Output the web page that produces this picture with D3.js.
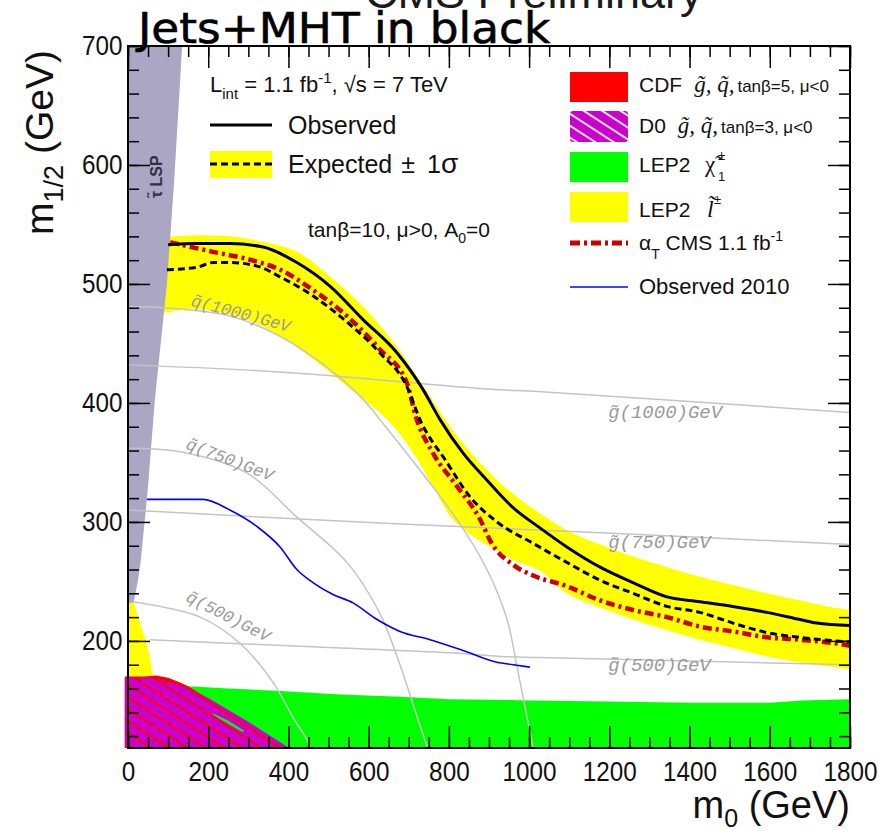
<!DOCTYPE html>
<html><head><meta charset="utf-8">
<script src="https://cdn.jsdelivr.net/npm/d3@7"></script>
<style>
body{margin:0;background:#fff}
svg{display:block}
</style></head>
<body>
<svg id="chart" width="879" height="831"></svg>
<script>
// ---- axis ticks ----
const xMajorTicks = [0, 200, 400, 600, 800, 1000, 1200, 1400, 1600, 1800];
const yMajorTicks = [200, 300, 400, 500, 600, 700];

// ---- excluded regions, [m0, m1/2] in GeV ----
const stauLspRegion = [[0,232],[14,232],[25,251],[32,268],[50,330],[67,403],[97,500],[115,586],[135,700],[0,700]];
const lep2SleptonRegion = [[0,232],[14,232],[30,215],[45,200],[55,185],[62,170],[0,170]];
const lep2CharginoRegion = [[0,163],[150,162],[250,160],[380,158],[530,155],[680,153],[800,151],[1000,150],[1200,149],[1400,148],[1600,148],[1680,150],[1800,151],[1800,110],[0,110]];
const cdfRegion = [[-8,170],[40,170],[70,171],[100,169],[130,165],[150,162],[400,110],[-8,110]];
const d0Region = [[-8,169],[60,169],[147,161],[200,152],[300,132],[397,111],[400,110],[-8,110]];
const d0Gap = [[210,139.5],[250,133],[290,124.5],[285,123.5],[248,130.5],[214,137.5]];

// ---- expected limit +-1 sigma band ----
const bandUpper = [[50,541],[100,540],[172,541],[254,540],[297,538],[421,527],[504,506],[586,481],[671,447],[736,414],[828,369],[927,333],[1010,311],[1094,293],[1177,281],[1259,271],[1344,262],[1426,254],[1508,247],[1593,240],[1675,234],[1758,228],[1800,226]];
const bandLower = [[50,476],[87,476],[172,479],[297,470],[379,456],[461,437],[546,414],[646,386],[711,358],[760,330],[810,302],[860,288],[920,276],[960,268],[1027,259],[1094,240],[1177,228],[1259,218],[1344,209],[1426,201],[1508,194],[1593,187],[1675,182],[1758,178],[1800,176]];

// ---- limit curves ----
const observed = [[100,533],[170,534],[254,534],[337,531],[421,518],[504,498],[586,470],[671,442],[736,411],[778,386],[835,358],[895,335],[960,312],[1027,295],[1094,279],[1177,262],[1259,249],[1344,237],[1426,233],[1508,229],[1593,224],[1675,218],[1717,215],[1800,213]];
const expected = [[97,512],[172,514],[212,518],[254,518],[322,515],[379,506],[461,490],[546,468],[628,442],[695,414],[728,386],[795,350],[853,321],[920,300],[1010,282],[1094,266],[1177,251],[1259,240],[1344,229],[1426,224],[1508,215],[1593,207],[1675,203],[1800,199]];
const alphaT = [[105,535],[212,527],[297,521],[379,512],[461,495],[546,473],[628,445],[695,417],[718,388],[760,358],[820,330],[878,302],[905,283],[960,264],[1010,255],[1094,246],[1177,234],[1259,226],[1344,220],[1426,212],[1508,208],[1593,203],[1675,201],[1783,197],[1800,196]];
const observed2010 = [[47,319],[130,319],[187,319],[254,310],[322,296],[379,279],[421,260],[461,249],[511,239],[561,232],[621,218],[678,208],[753,201],[835,192],[920,182],[960,180],[1002,178]];

// ---- iso-mass contours ----
const squark500 = [[12,233],[180,220],[279,198],[362,165],[411,136],[446,117],[455,110]];
const squark750 = [[0,362],[130,359],[297,341],[421,304],[546,266],[625,225],[675,183],[721,136],[746,111]];
const squark1000 = [[0,481],[87,480],[254,473],[379,456],[504,428],[586,403],[628,386],[820,302],[895,260],[945,218],[970,178],[1010,110]];
const gluino500 = [[55,201],[461,195],[803,190],[927,187],[1027,186],[1800,180]];
const gluino750 = [[0,310],[628,299],[1177,291],[1800,281]];
const gluino1000 = [[0,432],[379,426],[927,411],[1002,410],[1800,392]];

const svg = d3.select('#chart');
const x = d3.scaleLinear().domain([0, 1800]).range([128, 850]);
const y = d3.scaleLinear().domain([110, 700]).range([748, 46]);

const defs = svg.append('defs');
defs.append('clipPath').attr('id', 'plotClip')
  .append('rect').attr('x', 124).attr('y', y(700)).attr('width', x(1800) - 124).attr('height', y(110) - y(700));

function hatch(id, bg, fg) {
  const p = defs.append('pattern').attr('id', id).attr('patternUnits', 'userSpaceOnUse')
    .attr('width', 10).attr('height', 10).attr('patternTransform', 'rotate(33)');
  p.append('rect').attr('width', 10).attr('height', 10).attr('fill', bg);
  p.append('line').attr('x1', 0).attr('x2', 10).attr('y1', 5).attr('y2', 5)
    .attr('stroke', fg).attr('stroke-width', 1.8);
}
hatch('d0Hatch', '#cc00cc', '#ff0000');
hatch('d0HatchKey', '#cc00cc', '#ffffff');

const poly = d3.line().x(d => x(d[0])).y(d => y(d[1]));
const smooth = d3.line().x(d => x(d[0])).y(d => y(d[1])).curve(d3.curveCatmullRom.alpha(0.5));
const limit = d3.line().x(d => x(d[0])).y(d => y(d[1])).curve(d3.curveMonotoneX);

const plot = svg.append('g').attr('clip-path', 'url(#plotClip)');

function region(d, fill) {
  plot.append('path').attr('d', d).attr('fill', fill).attr('stroke', 'none');
}
region(poly(lep2CharginoRegion) + 'Z', '#00ff00');
region(poly(lep2SleptonRegion) + 'Z', '#ffff00');
region(poly(cdfRegion) + 'Z', '#ff0000');
region(poly(d0Region) + 'Z', 'url(#d0Hatch)');
region(poly(d0Gap) + 'Z', '#00ff00');
region(smooth(bandUpper) + 'L' + smooth(bandLower.slice().reverse()).slice(1) + 'Z', '#ffff00');
region(poly(stauLspRegion) + 'Z', '#aba6c4');

// iso-mass contours
[squark500, squark750, squark1000, gluino500, gluino750, gluino1000].forEach(c => {
  plot.append('path').attr('d', smooth(c)).attr('fill', 'none')
    .attr('stroke', '#c4c4c4').attr('stroke-width', 1.5);
});

// iso-mass labels
const isoLabels = [
  {t: 'q\u0303(1000)GeV', m0: 155, m12: 482, rot: 15, size: 17},
  {t: 'q\u0303(750)GeV',  m0: 142, m12: 362, rot: 21, size: 17},
  {t: 'q\u0303(500)GeV',  m0: 142, m12: 234, rot: 27, size: 17},
  {t: 'g\u0303(1000)GeV', m0: 1197, m12: 387, rot: 0, size: 19},
  {t: 'g\u0303(750)GeV',  m0: 1197, m12: 278, rot: 0, size: 19},
  {t: 'g\u0303(500)GeV',  m0: 1197, m12: 175, rot: 0, size: 19}
];
isoLabels.forEach(l => {
  svg.append('text')
    .attr('transform', `translate(${x(l.m0)},${y(l.m12)}) rotate(${l.rot})`)
    .attr('font-family', 'Liberation Mono, DejaVu Sans Mono, monospace')
    .attr('font-style', 'italic').attr('font-size', l.size)
    .attr('fill', '#9a9a9a').text(l.t);
});

// limit curves
function curve(data, color, width, dash) {
  const p = plot.append('path').attr('d', limit(data)).attr('fill', 'none')
    .attr('stroke', color).attr('stroke-width', width)
    .attr('stroke-linejoin', 'round');
  if (dash) p.attr('stroke-dasharray', dash);
}
curve(observed2010, '#0000ff', 1.6);
curve(alphaT, '#cc0000', 4.5, '9,4,3,4');
curve(expected, '#000000', 3, '7,4');
curve(observed, '#000000', 3);

// stau LSP label
svg.append('text').attr('transform', 'translate(162,198) rotate(-90)')
  .attr('font-family', 'Liberation Sans, Arial, sans-serif').attr('font-weight', 'bold')
  .attr('font-size', 16).attr('fill', '#30304a').text('\u03C4\u0303 LSP');

// ---- axes (ticks point inward on all sides) ----
const fontSans = 'Liberation Sans, Arial, Helvetica, sans-serif';
const xMinor = d3.range(0, 1801, 50);
const yMinor = d3.range(120, 701, 20);

function styleAxis(g) {
  g.select('.domain').remove();
  g.selectAll('.tick line').attr('stroke', '#000').attr('stroke-width', 1.5);
  g.selectAll('text').attr('font-family', fontSans).attr('font-size', 27).attr('fill', '#111');
}
svg.append('g').attr('transform', `translate(0,${y(110)})`)
  .call(d3.axisBottom(x).tickValues(xMinor).tickSize(-11).tickFormat(''))
  .call(styleAxis);
svg.append('g').attr('transform', `translate(0,${y(110)})`)
  .call(d3.axisBottom(x).tickValues(xMajorTicks).tickSize(-22).tickPadding(14).tickFormat(d3.format('d')))
  .call(styleAxis)
  .selectAll('text').attr('transform', 'scale(0.9,1)');
svg.append('g').attr('transform', `translate(0,${y(700)})`)
  .call(d3.axisTop(x).tickValues(xMinor).tickSize(-11).tickFormat('')).call(styleAxis);
svg.append('g').attr('transform', `translate(0,${y(700)})`)
  .call(d3.axisTop(x).tickValues(xMajorTicks).tickSize(-22).tickFormat('')).call(styleAxis);
svg.append('g').attr('transform', `translate(${x(0)},0)`)
  .call(d3.axisLeft(y).tickValues(yMinor).tickSize(-11).tickFormat('')).call(styleAxis);
svg.append('g').attr('transform', `translate(${x(0)},0)`)
  .call(d3.axisLeft(y).tickValues(yMajorTicks).tickSize(-22).tickPadding(6).tickFormat(d3.format('d')))
  .call(styleAxis)
  .selectAll('text').attr('transform', 'scale(0.9,1)');
svg.append('g').attr('transform', `translate(${x(1800)},0)`)
  .call(d3.axisRight(y).tickValues(yMinor).tickSize(-11).tickFormat('')).call(styleAxis);
svg.append('g').attr('transform', `translate(${x(1800)},0)`)
  .call(d3.axisRight(y).tickValues(yMajorTicks).tickSize(-22).tickFormat('')).call(styleAxis);

svg.append('rect').attr('x', x(0)).attr('y', y(700)).attr('width', x(1800) - x(0)).attr('height', y(110) - y(700))
  .attr('fill', 'none').attr('stroke', '#000').attr('stroke-width', 2);

// axis titles
const xt = svg.append('text').attr('x', 850).attr('y', 818).attr('text-anchor', 'end')
  .attr('font-family', fontSans).attr('font-size', 38).attr('fill', '#111');
xt.append('tspan').text('m');
xt.append('tspan').attr('font-size', 25).attr('dy', 9).text('0');
xt.append('tspan').attr('dy', -9).text(' (GeV)');

const yt = svg.append('text').attr('transform', 'translate(53,50) rotate(-90)').attr('text-anchor', 'end')
  .attr('font-family', fontSans).attr('font-size', 39).attr('fill', '#111');
yt.append('tspan').text('m');
yt.append('tspan').attr('font-size', 27).attr('dy', 10).text('1/2');
yt.append('tspan').attr('dy', -10).text(' (GeV)');

// ---- left legend ----
const lint = svg.append('text').attr('x', 210).attr('y', 92).attr('font-family', fontSans).attr('font-size', 22).attr('fill', '#111');
lint.append('tspan').text('L');
lint.append('tspan').attr('font-size', 15).attr('dy', 7).text('int');
lint.append('tspan').attr('dy', -7).text(' = 1.1 fb');
lint.append('tspan').attr('font-size', 15).attr('dy', -9).text('-1');
lint.append('tspan').attr('dy', 9).text(', \u221As = 7 TeV');

svg.append('line').attr('x1', 210).attr('x2', 272).attr('y1', 125).attr('y2', 125).attr('stroke', '#000').attr('stroke-width', 3);
svg.append('text').attr('x', 288).attr('y', 134).attr('font-family', fontSans).attr('font-size', 25).attr('fill', '#111').text('Observed');
svg.append('rect').attr('x', 210).attr('y', 151).attr('width', 62).attr('height', 27).attr('fill', '#ffff00');
svg.append('line').attr('x1', 210).attr('x2', 272).attr('y1', 164).attr('y2', 164).attr('stroke', '#000').attr('stroke-width', 3).attr('stroke-dasharray', '7,4');
const ex = svg.append('text').attr('x', 288).attr('y', 173).attr('font-family', fontSans).attr('font-size', 25).attr('fill', '#111');
ex.append('tspan').text('Expected');
ex.append('tspan').attr('dx', 9).text('\u00B1');
ex.append('tspan').attr('dx', 12).text('1');
ex.append('tspan').attr('font-size', 28).text('\u03C3');

const tb = svg.append('text').attr('x', 308).attr('y', 237).attr('font-family', fontSans).attr('font-size', 21).attr('fill', '#111');
tb.append('tspan').text('tan\u03B2=10, \u03BC>0, A');
tb.append('tspan').attr('font-size', 14).attr('dy', 6).text('0');
tb.append('tspan').attr('dy', -6).text('=0');

// ---- right legend ----
const kx = 570, kw = 58, tx = 639;
svg.append('rect').attr('x', kx).attr('y', 72).attr('width', kw).attr('height', 30).attr('fill', '#ff0000');
svg.append('rect').attr('x', kx).attr('y', 111).attr('width', kw).attr('height', 31).attr('rx', 3).attr('fill', 'url(#d0HatchKey)');
svg.append('rect').attr('x', kx).attr('y', 152).attr('width', kw).attr('height', 30).attr('fill', '#00ff00');
svg.append('rect').attr('x', kx).attr('y', 192).attr('width', kw).attr('height', 30).attr('fill', '#ffff00');
svg.append('line').attr('x1', kx).attr('x2', kx + kw).attr('y1', 243).attr('y2', 243).attr('stroke', '#cc0000').attr('stroke-width', 5).attr('stroke-dasharray', '10,4,3,4');
svg.append('line').attr('x1', kx).attr('x2', kx + kw).attr('y1', 287).attr('y2', 287).attr('stroke', '#0000ff').attr('stroke-width', 1.6);

function expRow(label, yb, gap, tail) {
  const t = svg.append('text').attr('x', tx).attr('y', yb).attr('font-family', fontSans).attr('font-size', 21).attr('fill', '#111');
  t.append('tspan').text(label);
  t.append('tspan').attr('dx', gap).attr('font-family', 'Liberation Serif, Times New Roman, serif').attr('font-style', 'italic').attr('font-size', 23).text('g\u0303, q\u0303,');
  t.append('tspan').attr('dx', 3).attr('font-size', 17).text(tail);
}
expRow('CDF', 92, 12, 'tan\u03B2=5, \u03BC<0');
expRow('D0', 133, 12, 'tan\u03B2=3, \u03BC<0');

svg.append('text').attr('x', tx).attr('y', 172).attr('font-family', fontSans).attr('font-size', 21).attr('fill', '#111').text('LEP2');
svg.append('text').attr('x', 705).attr('y', 172).attr('font-family', 'Liberation Serif, serif').attr('font-size', 23).attr('fill', '#111').text('\u03C7\u0303');
svg.append('text').attr('x', 718).attr('y', 160).attr('font-family', fontSans).attr('font-size', 13).attr('fill', '#111').text('\u00B1');
svg.append('text').attr('x', 718).attr('y', 181).attr('font-family', fontSans).attr('font-size', 13).attr('fill', '#111').text('1');
svg.append('text').attr('x', tx).attr('y', 217).attr('font-family', fontSans).attr('font-size', 21).attr('fill', '#111').text('LEP2');
svg.append('text').attr('x', 707).attr('y', 217).attr('font-family', 'Liberation Serif, serif').attr('font-style', 'italic').attr('font-size', 24).attr('fill', '#111').text('l\u0303');
svg.append('text').attr('x', 714).attr('y', 204).attr('font-family', fontSans).attr('font-size', 13).attr('fill', '#111').text('\u00B1');

const at = svg.append('text').attr('x', tx).attr('y', 250).attr('font-family', fontSans).attr('font-size', 21).attr('fill', '#111');
at.append('tspan').text('\u03B1');
at.append('tspan').attr('font-size', 14).attr('dy', 9).text('T');
at.append('tspan').attr('dy', -9).text(' CMS 1.1 fb');
at.append('tspan').attr('font-size', 14).attr('dy', -9).text('-1');
svg.append('text').attr('x', tx).attr('y', 294).attr('font-family', fontSans).attr('font-size', 22).attr('fill', '#111').text('Observed 2010');

// ---- header texts ----
svg.append('text').attr('x', 365).attr('y', 8).attr('font-family', fontSans).attr('font-size', 45).attr('fill', '#1a1a1a').text('CMS Preliminary');
svg.append('text').attr('transform', 'translate(138,43) scale(1.08,1)')
  .attr('font-family', 'DejaVu Sans, sans-serif').attr('font-size', 42)
  .attr('fill', '#000').attr('stroke', '#000').attr('stroke-width', 0.6).text('Jets+MHT in black');
</script>
</body></html>
